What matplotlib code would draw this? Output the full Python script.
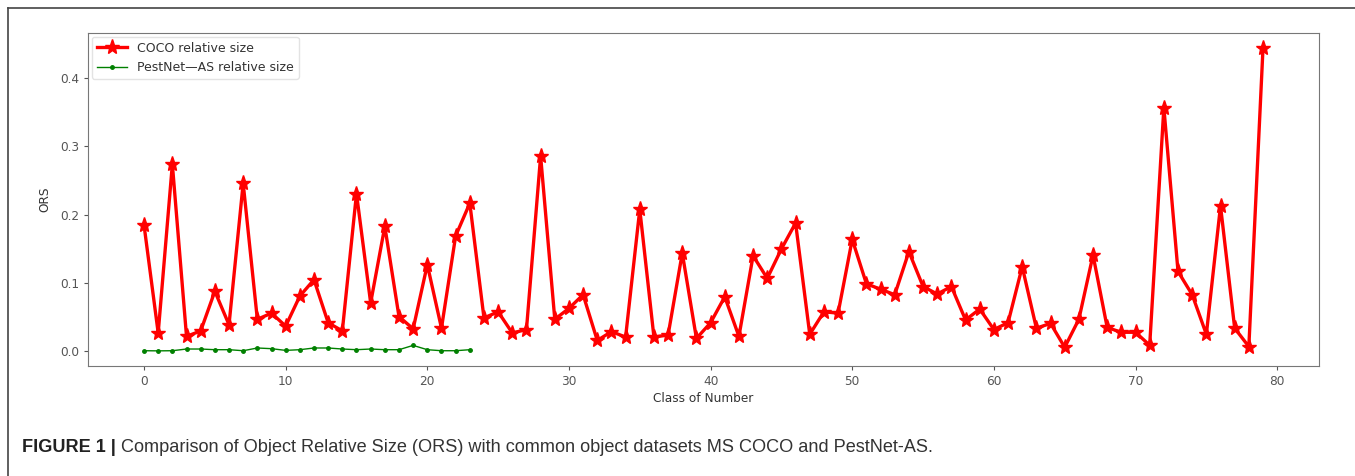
import matplotlib
matplotlib.use("Agg")
import matplotlib.pyplot as plt
from matplotlib.lines import Line2D

coco_size = [0.185, 0.027, 0.274, 0.022, 0.030, 0.088, 0.039, 0.246, 0.047, 0.056,
             0.037, 0.081, 0.105, 0.042, 0.030, 0.231, 0.071, 0.183, 0.051, 0.033,
             0.127, 0.034, 0.169, 0.217, 0.049, 0.058, 0.027, 0.032, 0.286, 0.047,
             0.063, 0.083, 0.016, 0.029, 0.021, 0.208, 0.021, 0.024, 0.144, 0.019,
             0.042, 0.080, 0.022, 0.140, 0.107, 0.150, 0.188, 0.025, 0.058, 0.056,
             0.164, 0.099, 0.091, 0.083, 0.146, 0.095, 0.084, 0.095, 0.046, 0.062,
             0.032, 0.042, 0.124, 0.034, 0.041, 0.006, 0.047, 0.141, 0.035, 0.028,
             0.028, 0.009, 0.357, 0.117, 0.083, 0.025, 0.213, 0.034, 0.007, 0.444]
pestnet_size = [0.001, 0.0008, 0.001, 0.0035, 0.0035, 0.0025, 0.0025, 0.001, 0.005, 0.004,
                0.0015, 0.0025, 0.005, 0.005, 0.0035, 0.0025, 0.0035, 0.0025, 0.0025, 0.0088,
                0.0025, 0.001, 0.001, 0.0025]
coco_label = "COCO relative size"
pestnet_label = "PestNet\u2014AS relative size"
caption_bold = "FIGURE 1 |"
caption_text = "Comparison of Object Relative Size (ORS) with common object datasets MS COCO and PestNet-AS."

grey = "#555555"
plt.rcParams["font.family"] = ["DejaVu Sans"]

fig = plt.figure(figsize=(13.55, 4.76), dpi=100)
ax = fig.add_axes([0.065, 0.2311, 0.9084, 0.6996])

ax.plot(range(len(coco_size)), coco_size, color="red", marker="*", markersize=11,
        linewidth=2.4, label=coco_label)
ax.plot(range(len(pestnet_size)), pestnet_size, color="green", marker=".", markersize=5,
        linewidth=1, label=pestnet_label)

ax.set_xlabel("Class of Number", fontsize=8.7, color="#333333", labelpad=3)
ax.set_ylabel("ORS", fontsize=8.7, color="#333333", labelpad=6)
ax.tick_params(labelsize=8.7, colors=grey, length=3)
for sp in ax.spines.values():
    sp.set_color("#777777")
ax.legend(loc="upper left", fontsize=9, framealpha=0.8, edgecolor="#dddddd",
          borderaxespad=0.3, handlelength=2.4, labelcolor="#333333")

# outer figure frame (top and left)
fig.add_artist(Line2D([8 / 1355, 1.0], [1 - 8 / 476, 1 - 8 / 476], color="#444444",
                      linewidth=1.2, transform=fig.transFigure))
fig.add_artist(Line2D([8 / 1355, 8 / 1355], [0.0, 1 - 8 / 476], color="#444444",
                      linewidth=1.2, transform=fig.transFigure))

cap_font = ["Liberation Sans", "DejaVu Sans"]
t1 = fig.text(22 / 1355, 1 - 448 / 476, caption_bold, fontsize=13.1, fontweight="bold",
              family=cap_font, color="#222222", va="center")
fig.canvas.draw()
bb = t1.get_window_extent()
fig.text(bb.x1 / 1355 + 0.004, 1 - 448 / 476, caption_text, fontsize=13.1,
         family=cap_font, color="#333333", va="center")

fig.savefig("out.png", dpi=100)
